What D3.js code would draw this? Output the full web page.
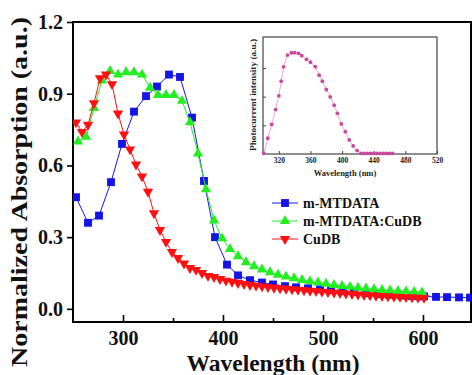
<!DOCTYPE html>
<html><head><meta charset="utf-8">
<script src="https://cdn.jsdelivr.net/npm/d3@7"></script>
<style>
html,body{margin:0;padding:0;background:#fff;}
svg{display:block;}
text{font-family:"Liberation Serif","Times New Roman",serif;font-weight:bold;}
</style></head>
<body><svg id="c" width="472" height="375"></svg>
<script>
// ---- data ----
const mtdataNm = [253,265,276,288,299,311,323,334,346,357,369,381,392,404,415,427,439,450,462,473,485,497,508,520,531,543,555,566,578,589,601,613,624,636,647];
const mtdataVal = [0.467,0.36,0.39,0.53,0.69,0.825,0.89,0.93,0.98,0.97,0.80,0.535,0.30,0.185,0.14,0.12,0.11,0.102,0.095,0.09,0.086,0.082,0.078,0.074,0.07,0.066,0.062,0.059,0.056,0.054,0.052,0.05,0.049,0.048,0.047];

const mixNm = [255,263,271,279,287,295,303,311,319,327,335,343,351,359,367,375,383,391,399,407,415,423,431,439,447,455,463,471,479,487,495,503,511,519,527,535,543,551,559,567,575,583,591,599];
const mixVal = [0.70,0.72,0.84,0.955,0.995,0.98,0.99,0.99,0.98,0.925,0.895,0.895,0.895,0.87,0.78,0.65,0.50,0.37,0.295,0.25,0.22,0.195,0.178,0.165,0.153,0.143,0.135,0.128,0.121,0.115,0.11,0.105,0.10,0.096,0.092,0.088,0.085,0.082,0.079,0.077,0.075,0.073,0.071,0.069];

const cudbNm = [253,259,265,271,277,283,289,295,301,307,313,319,325,331,337,343,349,355,361,367,373,379,385,391,397,403,409,415,421,427,433,439,445,451,457,463,469,475,481,487,493,499,505,511,517,523,529,535,541,547,553,559,565,571,577,583,589,595,601];
const cudbVal = [0.78,0.74,0.77,0.86,0.965,0.98,0.94,0.817,0.73,0.667,0.604,0.554,0.49,0.40,0.33,0.28,0.238,0.213,0.19,0.171,0.163,0.15,0.138,0.133,0.125,0.118,0.113,0.108,0.104,0.100,0.097,0.094,0.091,0.088,0.086,0.084,0.082,0.080,0.078,0.076,0.074,0.072,0.070,0.068,0.066,0.064,0.062,0.060,0.058,0.057,0.055,0.054,0.052,0.051,0.050,0.049,0.048,0.047,0.046];

const xTicks = [300,400,500,600];
const xMinorTicks = [350,450,550];
const yTicks = [0.0,0.3,0.6,0.9,1.2];

const insetNm = [301,306,311,316,320,323,326,331,336,340,345,349,355,360,366,371,375,380,385,390,394,399,404,409,414,419,424,428,432,436,440,444,448,452,456,460,464];
const insetVal = [0.02,0.55,1.03,1.55,2.03,2.54,3.04,3.45,3.53,3.53,3.51,3.43,3.30,3.20,3.05,2.75,2.54,2.25,1.99,1.70,1.42,1.05,0.78,0.49,0.28,0.12,0.02,0.02,0.02,0.02,0.02,0.02,0.02,0.02,0.02,0.02,0.02];
const insetXTicks = [320,360,400,440,480,520];
const insetYTicks = [1,2,3];

const seriesNames = ["m-MTDATA","m-MTDATA:CuDB","CuDB"];
const seriesColors = ["#1414e6","#22ee22","#ff1010"];

// ---- chart ----
const svg = d3.select("#c");
const L = 73, R = 471, T = 22, B = 322;
const x = d3.scaleLinear().domain([250, 648]).range([L, R]);
const y = d3.scaleLinear().domain([-0.055, 1.2]).range([B, T]);

const defs = svg.append("defs");
defs.append("clipPath").attr("id","clip").append("rect")
  .attr("x",L).attr("y",T).attr("width",R-L).attr("height",B-T);

// axes
const xAxis = svg.append("g").attr("transform",`translate(0,${B})`)
  .call(d3.axisBottom(x).tickValues(xTicks).tickSize(-7).tickPadding(12).tickFormat(d3.format("d")));
const xMinor = svg.append("g").attr("transform",`translate(0,${B})`)
  .call(d3.axisBottom(x).tickValues(xMinorTicks).tickSize(-4).tickFormat(""));
const yAxis = svg.append("g").attr("transform",`translate(${L},0)`)
  .call(d3.axisLeft(y).tickValues(yTicks).tickSize(6).tickPadding(4).tickFormat(d3.format(".1f")));
[xAxis,xMinor,yAxis].forEach(g=>{
  g.select(".domain").remove();
  g.selectAll(".tick line").attr("stroke","#000").attr("stroke-width",1.6);
  g.selectAll("text").attr("fill","#111").style("font-size","20px");
});
xAxis.selectAll("text").attr("dy","0.55em");

// frame
svg.append("rect").attr("x",L).attr("y",T).attr("width",R-L).attr("height",B-T)
  .attr("fill","none").attr("stroke","#000").attr("stroke-width",2);

// axis titles
svg.append("text").attr("x",273).attr("y",371).attr("text-anchor","middle")
  .style("font-size","23.5px").attr("fill","#111").text("Wavelength (nm)");
svg.append("text").attr("transform","translate(27,192) rotate(-90)").attr("text-anchor","middle")
  .attr("textLength",350).attr("lengthAdjust","spacingAndGlyphs")
  .style("font-size","23px").attr("fill","#111").text("Normalized Absorption (a.u.)");

// series
const plot = svg.append("g").attr("clip-path","url(#clip)");
const line = d3.line().x(d=>x(d[0])).y(d=>y(d[1]));
const data = [
  d3.zip(mtdataNm, mtdataVal),
  d3.zip(mixNm, mixVal),
  d3.zip(cudbNm, cudbVal)
];
const symbols = [
  d3.symbol().type(d3.symbolSquare).size(62),
  d3.symbol().type(d3.symbolTriangle).size(46),
  d3.symbol().type(d3.symbolTriangle).size(46)
];
const rot = [0,0,180];
data.forEach((ds,i)=>{
  const g = plot.append("g");
  g.append("path").datum(ds).attr("d",line).attr("fill","none")
    .attr("stroke",seriesColors[i]).attr("stroke-width",1);
  g.selectAll("path.m").data(ds).join("path").attr("class","m")
    .attr("d",symbols[i]())
    .attr("transform",d=>`translate(${x(d[0])},${y(d[1])}) rotate(${rot[i]})`)
    .attr("fill",seriesColors[i]);
});

// legend
const legY = [203,221,239];
seriesNames.forEach((n,i)=>{
  const g = svg.append("g").attr("transform",`translate(0,${legY[i]})`);
  g.append("line").attr("x1",272).attr("x2",298).attr("y1",0).attr("y2",0)
    .attr("stroke",seriesColors[i]).attr("stroke-width",1);
  g.append("path").attr("d",symbols[i]()).attr("transform",`translate(285,0) rotate(${rot[i]})`)
    .attr("fill",seriesColors[i]);
  g.append("text").attr("x",303).attr("y",5).style("font-size","14px").attr("fill","#111").text(n);
});

// inset
const iL = 263, iR = 437, iT = 37, iB = 154;
const ix = d3.scaleLinear().domain([300,520]).range([iL,iR]);
const iy = d3.scaleLinear().domain([0,4.08]).range([iB,iT]);
const ixAxis = svg.append("g").attr("transform",`translate(0,${iB})`)
  .call(d3.axisBottom(ix).tickValues(insetXTicks).tickSize(-3).tickPadding(4).tickFormat(d3.format("d")));
const iyAxis = svg.append("g").attr("transform",`translate(${iL},0)`)
  .call(d3.axisLeft(iy).tickValues(insetYTicks).tickSize(-3).tickFormat(""));
[ixAxis,iyAxis].forEach(g=>{
  g.select(".domain").remove();
  g.selectAll(".tick line").attr("stroke","#444").attr("stroke-width",1);
  g.selectAll("text").attr("fill","#222").style("font-size","7.5px");
});
svg.append("rect").attr("x",iL).attr("y",iT).attr("width",iR-iL).attr("height",iB-iT)
  .attr("fill","none").attr("stroke","#444").attr("stroke-width",1.2);
const insetData = d3.zip(insetNm, insetVal);
svg.append("path").datum(insetData).attr("d",d3.line().x(d=>ix(d[0])).y(d=>iy(d[1])))
  .attr("fill","none").attr("stroke","#f2a6d6").attr("stroke-width",1);
svg.append("g").selectAll("circle").data(insetData).join("circle")
  .attr("cx",d=>ix(d[0])).attr("cy",d=>iy(d[1])).attr("r",1.9).attr("fill","#c8489e");
svg.append("text").attr("x",345).attr("y",176).attr("text-anchor","middle")
  .style("font-size","8.5px").attr("fill","#222").text("Wavelength (nm)");
svg.append("text").attr("transform","translate(256,95) rotate(-90)").attr("text-anchor","middle")
  .attr("textLength",112).attr("lengthAdjust","spacingAndGlyphs")
  .style("font-size","7.5px").attr("fill","#222").text("Photocurrent intensity (a.u.)");
</script></body></html>
